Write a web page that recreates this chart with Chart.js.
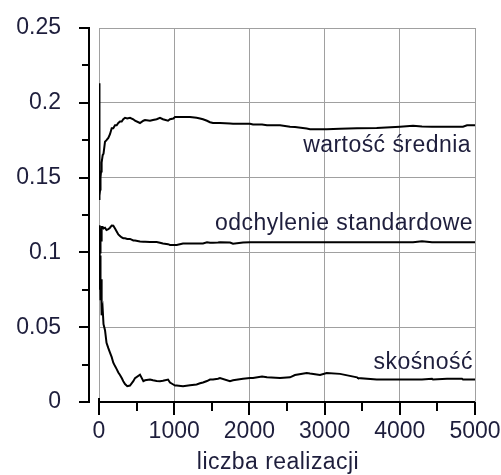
<!DOCTYPE html>
<html>
<head>
<meta charset="utf-8">
<script src="https://cdn.jsdelivr.net/npm/chart.js@4"></script>
<style>
  body { margin: 0; background: #fff; }
  #chart { display: block; }
</style>
</head>
<body>
<canvas id="chart" width="501" height="475"></canvas>
<script>
// number of realisations (x) and the three running statistics
const realizations = [1, 3, 6, 10, 15, 20, 27, 35, 49, 60, 80, 100, 124, 146, 169, 190, 213, 235, 257, 279,
  302, 323, 346, 376, 412, 456, 479, 545, 590, 612, 678, 718, 767, 811, 850, 918, 944, 988, 1011, 1033,
  1117, 1210, 1298, 1343, 1383, 1436, 1476, 1516, 1582, 1609, 1742, 1782, 1915, 2008, 2048, 2168, 2234, 2407, 2540, 2606,
  2762, 2806, 2939, 3028, 3205, 3431, 3444, 3693, 4003, 4176, 4295, 4428, 4441, 4628, 4827, 4840, 4894, 5000];

const meanValues = [0.213, 0.135, 0.152, 0.138, 0.142, 0.150, 0.154, 0.160, 0.165, 0.166, 0.174, 0.175, 0.1765, 0.179, 0.183, 0.183, 0.185, 0.185, 0.1865, 0.1875,
  0.1875, 0.189, 0.190, 0.1895, 0.190, 0.189, 0.188, 0.1865, 0.188, 0.1885, 0.188, 0.1885, 0.189, 0.190, 0.189, 0.188, 0.189, 0.1895, 0.1905, 0.1905,
  0.1905, 0.1905, 0.190, 0.1895, 0.189, 0.188, 0.187, 0.1865, 0.1865, 0.1865, 0.1862, 0.186, 0.186, 0.186, 0.1855, 0.1855, 0.185, 0.185, 0.184, 0.1838,
  0.1828, 0.1824, 0.1824, 0.1824, 0.1826, 0.183, 0.183, 0.1832, 0.184, 0.1846, 0.1842, 0.184, 0.184, 0.184, 0.184, 0.184, 0.185, 0.185];

const stdValues = [0.105, 0.118, 0.095, 0.112, 0.100, 0.116, 0.108, 0.117, 0.117, 0.116, 0.1165, 0.115, 0.1155, 0.1165, 0.118, 0.1178, 0.116, 0.114, 0.112, 0.111,
  0.110, 0.1095, 0.1095, 0.109, 0.109, 0.108, 0.108, 0.1073, 0.1072, 0.1072, 0.107, 0.107, 0.107, 0.1065, 0.106, 0.1055, 0.105, 0.105, 0.105, 0.105,
  0.106, 0.106, 0.106, 0.106, 0.106, 0.1068, 0.1064, 0.1064, 0.1066, 0.1068, 0.1066, 0.1058, 0.1066, 0.1068, 0.1068, 0.1068, 0.1068, 0.1068, 0.1068, 0.1068,
  0.1068, 0.1068, 0.1068, 0.1068, 0.1068, 0.1068, 0.1068, 0.1068, 0.1068, 0.1068, 0.1075, 0.1068, 0.1068, 0.1068, 0.1068, 0.1068, 0.1068, 0.1068];

const skewValues = [0.118, 0.090, 0.112, 0.075, 0.098, 0.068, 0.082, 0.058, 0.062, 0.052, 0.048, 0.0396, 0.036, 0.033, 0.030, 0.0263, 0.024, 0.022, 0.0197, 0.018,
  0.016, 0.0139, 0.012, 0.0106, 0.011, 0.0139, 0.016, 0.0183, 0.0139, 0.0145, 0.015, 0.0145, 0.014, 0.0139, 0.0142, 0.015, 0.013, 0.0117, 0.011, 0.011,
  0.0106, 0.0112, 0.0117, 0.0125, 0.013, 0.014, 0.015, 0.015, 0.0155, 0.016, 0.0139, 0.0145, 0.0155, 0.016, 0.016, 0.017, 0.0165, 0.016, 0.0165, 0.018,
  0.0194, 0.019, 0.018, 0.0194, 0.0188, 0.0165, 0.016, 0.015, 0.015, 0.015, 0.015, 0.0155, 0.015, 0.0155, 0.0155, 0.015, 0.015, 0.015];

const seriesLabels = ['wartość średnia', 'odchylenie standardowe', 'skośność'];
const xTitle = 'liczba realizacji';

const FONT = "'Liberation Sans', Arial, sans-serif";
const TEXT_COLOR = '#1e1e3c';

function toPoints(values) {
  return values.map((v, i) => ({ x: realizations[i], y: v }));
}

// black detached axes, minor ticks, curve labels and the axis title
const decorations = {
  id: 'decorations',
  afterDraw(chart) {
    const ctx = chart.ctx;
    const xs = chart.scales.x;
    const ys = chart.scales.y;
    const axisX = xs.left - 10;
    const axisY = ys.getPixelForValue(0);

    ctx.save();
    ctx.strokeStyle = '#000';
    ctx.lineWidth = 2;

    // y axis
    ctx.beginPath();
    ctx.moveTo(axisX, ys.getPixelForValue(0.25));
    ctx.lineTo(axisX, axisY);
    for (let v = 0; v <= 0.2501; v += 0.025) {
      const py = Math.round(ys.getPixelForValue(v));
      const major = Math.round(v / 0.025) % 2 === 0;
      ctx.moveTo(axisX + 1, py);
      ctx.lineTo(axisX - (major ? 10 : 7), py);
    }
    ctx.stroke();

    // x axis
    ctx.beginPath();
    ctx.moveTo(xs.left, axisY);
    ctx.lineTo(xs.right, axisY);
    for (let v = 0; v <= 5000; v += 500) {
      const px = Math.round(xs.getPixelForValue(v));
      const major = v % 1000 === 0;
      ctx.moveTo(px, v === 0 ? axisY - 4 : axisY);
      ctx.lineTo(px, axisY + (major ? 13 : 9));
    }
    ctx.stroke();

    ctx.fillStyle = TEXT_COLOR;
    ctx.font = '23px ' + FONT;
    ctx.letterSpacing = '0.45px';
    ctx.textAlign = 'right';
    ctx.textBaseline = 'alphabetic';
    ctx.fillText(seriesLabels[0], xs.right - 4, 152);
    ctx.fillText(seriesLabels[1], xs.right - 2, 230);
    ctx.fillText(seriesLabels[2], xs.right - 2, 369);

    ctx.textAlign = 'center';
    ctx.textBaseline = 'middle';
    ctx.fillText(xTitle, 278, 463);
    ctx.restore();
  }
};

const lineStyle = {
  borderColor: '#000',
  borderWidth: 2,
  pointRadius: 0,
  fill: false,
  tension: 0
};

new Chart(document.getElementById('chart'), {
  type: 'line',
  data: {
    datasets: [
      { label: seriesLabels[0], data: toPoints(meanValues), ...lineStyle },
      { label: seriesLabels[1], data: toPoints(stdValues), ...lineStyle },
      { label: seriesLabels[2], data: toPoints(skewValues), ...lineStyle }
    ]
  },
  options: {
    responsive: false,
    animation: false,
    layout: { padding: { top: 28, right: 26, left: 0, bottom: 0 } },
    plugins: {
      legend: { display: false },
      tooltip: { enabled: false }
    },
    scales: {
      x: {
        type: 'linear',
        min: 0,
        max: 5000,
        afterFit: (scale) => {
          scale.height = 73;
          scale.paddingLeft = 0;
          scale.paddingRight = 0;
        },
        grid: { color: '#a0a0a0', lineWidth: 1, drawTicks: false },
        border: { display: false },
        ticks: {
          stepSize: 1000,
          padding: 16,
          maxRotation: 0,
          color: TEXT_COLOR,
          font: { family: FONT, size: 23 },
          callback: (v) => String(v)
        }
      },
      y: {
        min: 0,
        max: 0.25,
        afterFit: (scale) => {
          scale.width = 99;
          scale.paddingTop = 0;
          scale.paddingBottom = 0;
        },
        grid: { color: '#a0a0a0', lineWidth: 1, drawTicks: false },
        border: { display: false },
        ticks: {
          stepSize: 0.05,
          padding: 38,
          color: TEXT_COLOR,
          font: { family: FONT, size: 23 },
          callback: (v) => String(Math.round(v * 100) / 100)
        }
      }
    }
  },
  plugins: [decorations]
});
</script>
</body>
</html>
